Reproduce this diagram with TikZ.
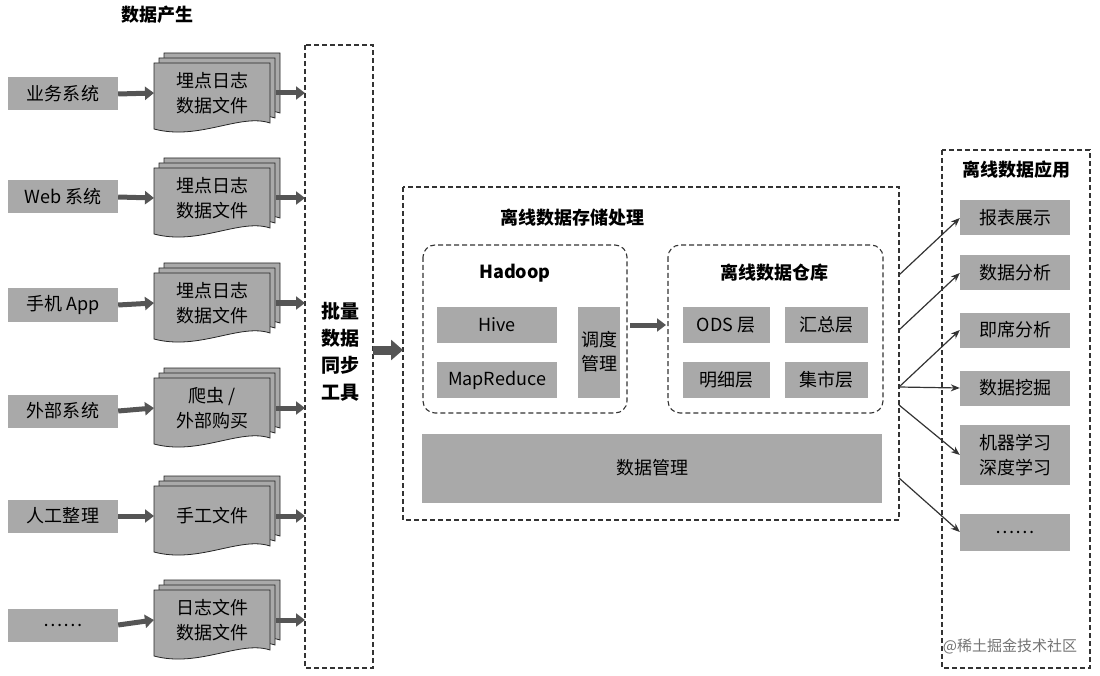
\documentclass[tikz,border=0pt]{standalone}
\usepackage{fontspec}
\setmainfont{Noto Sans CJK SC}
\usetikzlibrary{arrows.meta}
\definecolor{boxg}{HTML}{A9A9A9}
\definecolor{arrg}{HTML}{555555}
\tikzset{
 gbox/.style={fill=boxg,draw=none,inner sep=0pt,font=\fontsize{18}{22}\selectfont,align=center},
 dbox/.style={draw=black!80,dashed,line width=1.1pt,dash pattern=on 5pt off 3pt},
 fat/.style={draw=arrg,line width=5pt,-{Triangle[length=9pt,width=13pt]}},
 thin/.style={draw=black!80,line width=1.2pt,-{Stealth[length=9pt,width=7pt]}},
 ttl/.style={font=\bfseries\fontsize{18}{22}\selectfont},
 doct/.style={font=\fontsize{18}{25}\selectfont,align=center,inner sep=0pt}
}
\newcommand\docpath[4]{% x0 y0 x1 y1(bottom)
 \filldraw[fill=boxg,draw=black!85,line width=0.8pt] (#1,#2) -- (#3,#2) -- (#3,#4-4)
  .. controls (#3-30,#4-14) and (#1+45,#4+14) .. (#1,#4+2) -- cycle;}
\newcommand\mydoc[4]{% name cx cy text
 \docpath{#2-48}{#3-42}{#2+68}{#3+22}
 \docpath{#2-53}{#3-37}{#2+63}{#3+27}
 \docpath{#2-58}{#3-32}{#2+58}{#3+32}
 \node[doct] (#1) at (#2,#3-2) {#4};
 \coordinate (#1w) at (#2-58,#3-2);
 \coordinate (#1e) at (#2+64,#3-2);}
\begin{document}
\begin{tikzpicture}[x=1pt,y=-1pt]
\useasboundingbox (0,0) rectangle (1100,676);
\node[ttl] (t1) at (157,15) {数据产生};
\foreach \n/\y/\t in {a/94/业务系统,b/197/Web 系统,c/305/手机 App,d/411/外部系统,e/516/人工整理,f/625/……}{
 \node[gbox,minimum width=110pt,minimum height=33pt] (s\n) at (63,\y) {\t};
}
\mydoc{da}{212}{95}{埋点日志\\数据文件}
\mydoc{db}{212}{200}{埋点日志\\数据文件}
\mydoc{dc}{212}{305}{埋点日志\\数据文件}
\mydoc{dd}{212}{410}{爬虫 /\\外部购买}
\mydoc{de}{212}{518}{手工文件}
\mydoc{df}{212}{622}{日志文件\\数据文件}
\draw[dbox] (305,45) rectangle (373,668);
\node[ttl,align=center,font=\bfseries\fontsize{19}{27}\selectfont] (tool) at (340,352) {批量\\数据\\同步\\工具};
\foreach \n in {a,b,c,d,e,f}{
 \coordinate (r\n) at (305,0);
 \draw[fat] (s\n.east) -- (d\n w);
 \draw[fat] (d\n e) -- (d\n e -| r\n);
}
\draw[dbox] (403,187) rectangle (899,520);
\coordinate (pin) at (403,350);
\coordinate (tin) at (373,350);
\draw[fat,line width=9pt,-{Triangle[length=12pt,width=20pt]}] (tin) -- (pin);
\node[ttl] (t2) at (572,218) {离线数据存储处理};
\draw[dbox,rounded corners=12pt] (423,245) rectangle (627,413);
\node[ttl] (hd) at (515,273) {Hadoop};
\node[gbox,minimum width=120pt,minimum height=36pt] (hive) at (497,325) {Hive};
\node[gbox,minimum width=120pt,minimum height=36pt] (mr) at (497,380) {MapReduce};
\node[gbox,minimum width=42pt,minimum height=91pt,font=\fontsize{18}{24}\selectfont] (dd2) at (599,352) {调度\\管理};
\draw[dbox,rounded corners=12pt] (668,245) rectangle (883,413);
\node[ttl] (wh) at (774,273) {离线数据仓库};
\node[gbox,minimum width=87pt,minimum height=36pt] (ods) at (726,325) {ODS 层};
\node[gbox,minimum width=83pt,minimum height=36pt] (hz) at (826,325) {汇总层};
\node[gbox,minimum width=87pt,minimum height=36pt] (mx) at (726,380) {明细层};
\node[gbox,minimum width=83pt,minimum height=36pt] (js) at (826,380) {集市层};
\coordinate (h1) at (630,325); \coordinate (w1) at (666,325);
\draw[fat] (h1) -- (w1);
\node[gbox,minimum width=460pt,minimum height=69pt] (mgmt) at (652,468) {数据管理};
\draw[dbox] (942,150) rectangle (1090,668);
\node[ttl] (t3) at (1016,170) {离线数据应用};
\node[gbox,minimum width=110pt,minimum height=35pt] (p1) at (1015,218) {报表展示};
\node[gbox,minimum width=110pt,minimum height=35pt] (p2) at (1015,273) {数据分析};
\node[gbox,minimum width=110pt,minimum height=35pt] (p3) at (1015,330) {即席分析};
\node[gbox,minimum width=110pt,minimum height=35pt] (p4) at (1015,388) {数据挖掘};
\node[gbox,minimum width=110pt,minimum height=60pt,font=\fontsize{18}{25}\selectfont] (p5) at (1015,455) {机器学习\\深度学习};
\node[gbox,minimum width=110pt,minimum height=37pt] (p6) at (1015,532) {……};
\coordinate (o1) at (899,275); \coordinate (o2) at (899,330);
\coordinate (o3) at (899,387); \coordinate (o4) at (899,405);
\coordinate (o5) at (899,478);
\draw[thin] (o1) -- (p1.west);
\draw[thin] (o2) -- (p2.west);
\draw[thin] (o3) -- (p3.west);
\draw[thin] (o3) -- (p4.west);
\draw[thin] (o4) -- (p5.west);
\draw[thin] (o5) -- (p6.west);
\node[text=black!55,font=\fontsize{15}{17}\selectfont] (wm) at (1010,646) {@稀土掘金技术社区};
\end{tikzpicture}
\end{document}
